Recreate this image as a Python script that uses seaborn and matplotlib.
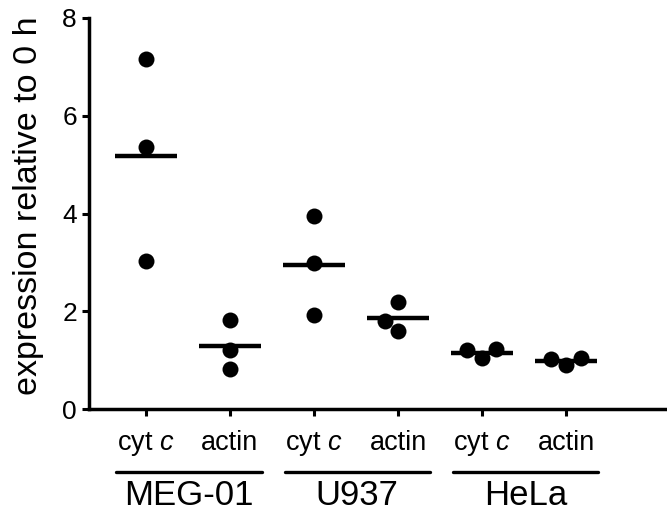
import pandas as pd
import matplotlib.pyplot as plt
import seaborn as sns
from matplotlib import transforms

# valeurs
categories = ["MEG-01 cyt c", "MEG-01 actin", "U937 cyt c", "U937 actin", "HeLa cyt c", "HeLa actin"]
tick_labels = ["cyt $\\mathit{c}$", "actin", "cyt $\\mathit{c}$", "actin", "cyt $\\mathit{c}$", "actin"]
groups = ["MEG-01", "U937", "HeLa"]

meg_cyt = [7.15, 5.37, 3.02]
meg_actin = [1.83, 1.21, 0.82]
u937_cyt = [3.94, 2.98, 1.92]
u937_actin = [2.18, 1.80, 1.60]
hela_cyt = [1.22, 1.04, 1.20]
hela_actin = [1.05, 0.90, 1.02]

values = [meg_cyt, meg_actin, u937_cyt, u937_actin, hela_cyt, hela_actin]
df = pd.DataFrame(
    [(c, v) for c, vals in zip(categories, values) for v in vals],
    columns=["sample", "expression"],
)

sns.set_style("ticks")
plt.rcParams["font.family"] = ["Liberation Sans", "DejaVu Sans"]
plt.rcParams["mathtext.fontset"] = "custom"
plt.rcParams["mathtext.rm"] = "Liberation Sans"
plt.rcParams["mathtext.it"] = "Liberation Sans:italic"
plt.rcParams["text.color"] = "black"
plt.rcParams["axes.labelcolor"] = "black"
plt.rcParams["xtick.color"] = "black"
plt.rcParams["ytick.color"] = "black"
plt.rcParams["axes.edgecolor"] = "black"

fig = plt.figure(figsize=(6.67, 5.12), dpi=100)
ax = fig.add_axes([0.133, 0.201, 0.867, 0.764])

sns.swarmplot(data=df, x="sample", y="expression", order=categories,
              color="black", size=11.5, ax=ax)
sns.pointplot(data=df, x="sample", y="expression", order=categories,
              estimator="mean", errorbar=None, linestyle="none",
              marker="_", markersize=44, markeredgewidth=3.2,
              color="black", ax=ax)

ax.set_xlim(-0.68, 6.2)
ax.set_ylim(0, 8)
ax.set_yticks([0, 2, 4, 6, 8])
ax.set_xticks(range(len(categories)))
ax.set_xticklabels(tick_labels)
ax.set_xlabel("")
ax.set_ylabel("expression relative to 0 h", fontsize=24.5)
ax.yaxis.set_label_coords(-0.078, 0.52)
ax.tick_params(axis="both", length=5, width=2.2)
ax.tick_params(axis="y", labelsize=19)
ax.tick_params(axis="x", labelsize=19.5, pad=10)
for side in ["left", "bottom"]:
    ax.spines[side].set_linewidth(2.5)
sns.despine(ax=ax)

# étiquettes de groupes avec traits
trans = transforms.blended_transform_factory(ax.transData, ax.transAxes)
for i, g in enumerate(groups):
    x0, x1 = 2 * i - 0.35, 2 * i + 1.38
    ax.plot([x0, x1], [-0.16, -0.16], color="black", lw=2.4,
            transform=trans, clip_on=False)
    ax.text((x0 + x1) / 2, -0.178, g, transform=trans, ha="center", va="top",
            fontsize=25)

fig.savefig("out.png", dpi=100)
